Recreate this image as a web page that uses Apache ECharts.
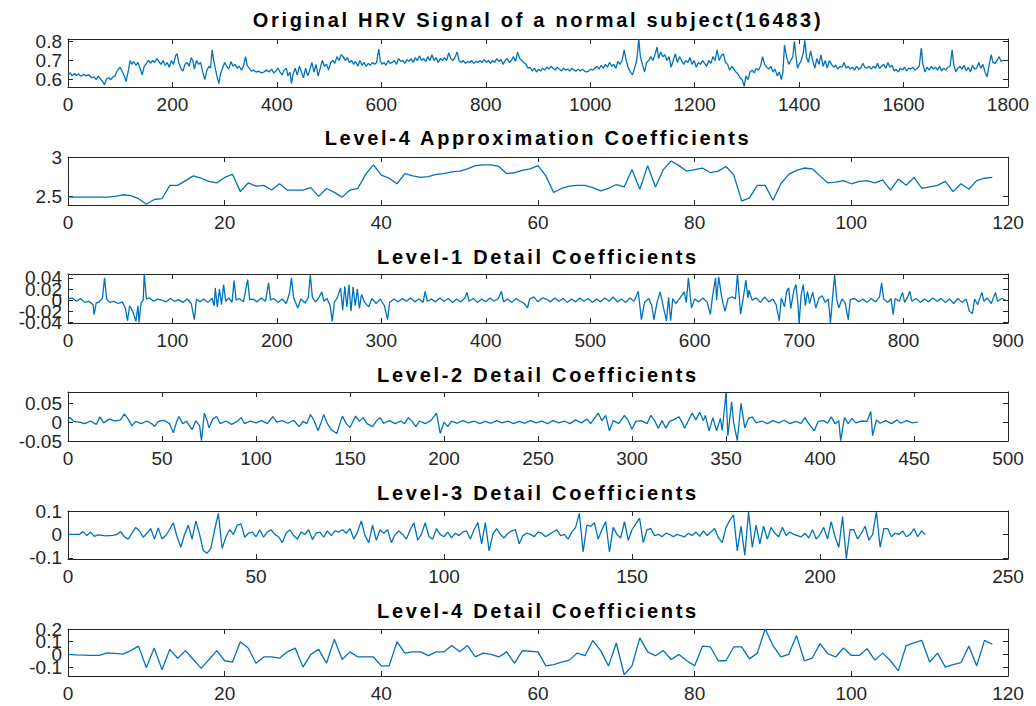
<!DOCTYPE html>
<html><head><meta charset="utf-8">
<script src="https://cdn.jsdelivr.net/npm/echarts@6/dist/echarts.min.js"></script>
<style>html,body{margin:0;padding:0;background:#fff}#c{width:1036px;height:706px}</style>
</head><body><div id="c"></div>
<script>
const titles = [
  'Original HRV Signal of a normal subject(16483)',
  'Level-4 Approximation Coefficients',
  'Level-1 Detail Coefficients',
  'Level-2 Detail Coefficients',
  'Level-3 Detail Coefficients',
  'Level-4 Detail Coefficients'
];
const xMax = [1800, 120, 900, 500, 250, 120];
const xStep = [200, 20, 100, 50, 50, 20];
const yMin = [0.562, 2.39, -0.041, -0.05, -0.105, -0.17];
const yMax = [0.812, 3.0, 0.047, 0.08, 0.1, 0.2];
const yTicks = [[0.6, 0.7, 0.8], [2.5, 3], [-0.04, -0.02, 0, 0.02, 0.04], [-0.05, 0, 0.05], [-0.1, 0, 0.1], [-0.1, 0, 0.1, 0.2]];

// Original HRV signal [sample, value]
const hrv = [[0,0.625],[4,0.635],[8,0.62],[12,0.632],[16,0.622],[20,0.63],[25,0.618],[30,0.628],[35,0.62],[40,0.626],[45,0.61],[50,0.615],[54,0.6],[58,0.618],[62,0.605],[66,0.59],[70,0.575],[74,0.605],[78,0.61],[82,0.6],[86,0.615],[90,0.62],[95,0.65],[100,0.665],[104,0.64],[108,0.62],[111,0.59],[115,0.64],[119,0.7],[122,0.68],[126,0.695],[130,0.675],[134,0.69],[138,0.66],[142,0.625],[146,0.67],[150,0.685],[154,0.7],[158,0.685],[162,0.7],[166,0.69],[170,0.71],[174,0.695],[178,0.68],[182,0.7],[186,0.675],[190,0.69],[194,0.665],[198,0.7],[202,0.68],[206,0.725],[209,0.735],[212,0.69],[216,0.66],[220,0.645],[224,0.68],[228,0.69],[232,0.67],[236,0.715],[239,0.7],[242,0.655],[246,0.7],[250,0.68],[254,0.69],[258,0.64],[262,0.6],[266,0.65],[270,0.67],[273,0.66],[276,0.755],[279,0.7],[282,0.66],[286,0.61],[289,0.58],[292,0.63],[296,0.66],[300,0.69],[304,0.67],[308,0.655],[312,0.695],[316,0.67],[320,0.68],[324,0.66],[328,0.67],[332,0.65],[336,0.67],[340,0.72],[343,0.675],[347,0.66],[351,0.645],[355,0.65],[360,0.64],[365,0.645],[370,0.635],[375,0.64],[380,0.65],[385,0.64],[390,0.655],[394,0.635],[398,0.645],[402,0.66],[406,0.64],[410,0.625],[414,0.65],[418,0.66],[421,0.62],[425,0.64],[428,0.58],[431,0.63],[435,0.66],[439,0.625],[443,0.67],[447,0.64],[451,0.61],[455,0.66],[459,0.62],[463,0.65],[467,0.69],[471,0.64],[475,0.68],[479,0.62],[483,0.66],[487,0.7],[491,0.67],[495,0.68],[499,0.65],[503,0.69],[507,0.7],[511,0.685],[515,0.72],[519,0.7],[523,0.73],[527,0.72],[531,0.7],[535,0.715],[539,0.69],[543,0.7],[547,0.68],[551,0.695],[555,0.67],[559,0.7],[563,0.675],[567,0.69],[571,0.67],[575,0.685],[579,0.675],[583,0.69],[587,0.68],[591,0.69],[595,0.76],[598,0.7],[601,0.68],[605,0.69],[609,0.675],[613,0.7],[617,0.685],[621,0.69],[625,0.7],[629,0.68],[633,0.71],[637,0.695],[641,0.7],[645,0.685],[649,0.705],[653,0.695],[657,0.71],[661,0.69],[665,0.715],[669,0.7],[673,0.725],[677,0.7],[681,0.71],[685,0.695],[689,0.72],[693,0.7],[697,0.73],[701,0.7],[705,0.715],[709,0.69],[713,0.71],[717,0.7],[721,0.715],[725,0.7],[729,0.74],[733,0.71],[737,0.7],[741,0.715],[745,0.745],[749,0.7],[753,0.69],[757,0.7],[761,0.685],[765,0.695],[769,0.69],[773,0.7],[777,0.685],[781,0.695],[785,0.69],[789,0.7],[793,0.69],[797,0.705],[801,0.69],[805,0.7],[809,0.685],[813,0.7],[817,0.69],[821,0.71],[825,0.695],[829,0.705],[833,0.68],[837,0.7],[841,0.71],[845,0.69],[849,0.7],[853,0.72],[857,0.695],[861,0.745],[865,0.71],[869,0.7],[873,0.69],[877,0.68],[881,0.66],[885,0.665],[889,0.645],[893,0.66],[897,0.64],[901,0.655],[905,0.645],[909,0.66],[913,0.65],[917,0.665],[921,0.655],[925,0.67],[929,0.66],[933,0.65],[937,0.665],[941,0.655],[945,0.645],[949,0.66],[953,0.65],[957,0.655],[961,0.645],[965,0.66],[969,0.65],[973,0.645],[977,0.655],[981,0.645],[985,0.655],[989,0.645],[993,0.64],[997,0.645],[1001,0.655],[1005,0.65],[1009,0.66],[1013,0.67],[1017,0.655],[1021,0.675],[1025,0.66],[1029,0.68],[1033,0.665],[1037,0.69],[1041,0.67],[1045,0.68],[1049,0.66],[1053,0.695],[1057,0.68],[1061,0.7],[1065,0.755],[1069,0.7],[1073,0.66],[1077,0.64],[1081,0.625],[1085,0.66],[1089,0.7],[1093,0.81],[1096,0.72],[1100,0.68],[1104,0.64],[1108,0.69],[1112,0.7],[1116,0.72],[1120,0.7],[1124,0.73],[1128,0.77],[1131,0.71],[1135,0.745],[1139,0.72],[1143,0.73],[1147,0.7],[1151,0.72],[1155,0.665],[1159,0.7],[1163,0.735],[1167,0.69],[1171,0.72],[1175,0.7],[1179,0.68],[1183,0.7],[1187,0.69],[1191,0.715],[1195,0.68],[1199,0.7],[1203,0.665],[1207,0.69],[1211,0.68],[1215,0.7],[1219,0.685],[1223,0.67],[1227,0.7],[1231,0.685],[1235,0.72],[1239,0.7],[1243,0.755],[1247,0.7],[1251,0.725],[1255,0.735],[1259,0.69],[1263,0.68],[1267,0.65],[1271,0.67],[1275,0.655],[1279,0.64],[1283,0.63],[1287,0.61],[1291,0.6],[1295,0.565],[1298,0.62],[1302,0.6],[1306,0.64],[1310,0.65],[1314,0.635],[1318,0.66],[1322,0.65],[1326,0.67],[1330,0.72],[1334,0.68],[1338,0.665],[1342,0.655],[1346,0.67],[1350,0.64],[1354,0.655],[1358,0.62],[1362,0.64],[1366,0.6],[1369,0.64],[1372,0.78],[1376,0.72],[1380,0.68],[1384,0.7],[1388,0.72],[1391,0.8],[1394,0.72],[1397,0.66],[1400,0.68],[1404,0.7],[1408,0.74],[1411,0.805],[1414,0.72],[1418,0.69],[1422,0.75],[1426,0.7],[1430,0.66],[1434,0.71],[1438,0.68],[1442,0.73],[1446,0.67],[1450,0.7],[1454,0.66],[1458,0.7],[1462,0.68],[1466,0.665],[1470,0.675],[1474,0.655],[1478,0.67],[1482,0.665],[1486,0.69],[1490,0.66],[1494,0.67],[1498,0.655],[1502,0.665],[1506,0.65],[1510,0.67],[1514,0.655],[1518,0.66],[1522,0.685],[1526,0.665],[1530,0.66],[1534,0.67],[1538,0.655],[1542,0.67],[1546,0.66],[1550,0.685],[1554,0.66],[1558,0.67],[1562,0.68],[1566,0.66],[1570,0.69],[1574,0.665],[1578,0.675],[1582,0.645],[1586,0.655],[1590,0.64],[1594,0.66],[1598,0.65],[1602,0.665],[1606,0.645],[1610,0.66],[1614,0.655],[1618,0.665],[1622,0.65],[1626,0.66],[1630,0.67],[1634,0.765],[1637,0.68],[1641,0.64],[1645,0.665],[1649,0.65],[1653,0.67],[1657,0.655],[1661,0.665],[1665,0.65],[1669,0.67],[1673,0.645],[1677,0.66],[1681,0.65],[1685,0.665],[1689,0.67],[1693,0.755],[1696,0.68],[1700,0.64],[1704,0.66],[1708,0.67],[1712,0.655],[1716,0.675],[1720,0.645],[1724,0.665],[1728,0.64],[1732,0.675],[1736,0.655],[1740,0.66],[1744,0.69],[1748,0.66],[1752,0.68],[1756,0.64],[1760,0.615],[1764,0.68],[1768,0.73],[1771,0.69],[1775,0.685],[1779,0.7],[1783,0.72],[1787,0.695],[1790,0.7]];

// Level-4 approximation coefficients (index 0..118)
const approx4 = [2.49,2.49,2.49,2.49,2.49,2.49,2.50,2.52,2.51,2.47,2.40,2.46,2.47,2.64,2.64,2.70,2.76,2.73,2.69,2.67,2.74,2.78,2.56,2.67,2.63,2.64,2.58,2.66,2.58,2.58,2.58,2.61,2.50,2.60,2.55,2.49,2.58,2.60,2.78,2.90,2.77,2.73,2.66,2.79,2.76,2.74,2.75,2.78,2.79,2.81,2.82,2.85,2.89,2.90,2.90,2.88,2.79,2.80,2.83,2.85,2.89,2.76,2.55,2.60,2.63,2.64,2.64,2.61,2.57,2.60,2.65,2.62,2.84,2.59,2.89,2.62,2.84,2.95,2.89,2.82,2.84,2.86,2.80,2.82,2.88,2.77,2.44,2.48,2.64,2.64,2.45,2.66,2.78,2.83,2.86,2.85,2.76,2.67,2.68,2.70,2.66,2.69,2.70,2.67,2.71,2.58,2.72,2.64,2.74,2.60,2.62,2.64,2.69,2.56,2.66,2.59,2.70,2.73,2.74];

// Level-1 detail coefficients [index, value]
const detail1 = [[0,0.002],[4,0.004],[8,-0.002],[12,0.003],[16,-0.004],[20,-0.002],[24,-0.008],[25,-0.026],[27,-0.005],[30,-0.003],[33,0.004],[35,0.04],[37,0.002],[40,-0.004],[44,-0.002],[48,-0.006],[52,-0.003],[55,-0.015],[57,-0.037],[59,-0.01],[62,-0.02],[65,-0.038],[67,-0.01],[68,-0.04],[70,-0.005],[72,0],[73,0.048],[75,0.002],[78,0.004],[82,-0.002],[86,0.002],[90,0],[94,-0.003],[98,0.003],[102,-0.002],[106,0.001],[110,-0.004],[114,0.002],[118,-0.006],[121,-0.035],[123,0.002],[126,-0.003],[130,0.002],[134,-0.004],[138,0.003],[140,-0.01],[141,0.022],[143,-0.012],[145,0.02],[147,-0.008],[149,0.028],[151,-0.002],[154,0.004],[157,-0.004],[159,0.035],[161,0],[164,0.003],[168,-0.003],[172,0.037],[174,0.001],[177,0.002],[181,-0.003],[185,0.004],[189,-0.002],[192,0.031],[194,0],[197,0.003],[201,-0.004],[205,0.002],[209,-0.006],[212,0.012],[214,0.04],[216,0.005],[220,-0.014],[223,0.002],[227,-0.005],[230,0.004],[232,0.045],[234,0.005],[237,-0.003],[240,0.004],[243,0.015],[245,-0.002],[248,0.003],[251,-0.01],[253,-0.038],[255,-0.004],[258,0.005],[261,0.022],[263,-0.018],[265,0.025],[267,-0.012],[269,0.028],[271,-0.02],[273,0.024],[275,-0.01],[277,0.02],[279,-0.015],[281,0.01],[284,-0.004],[288,-0.012],[291,0.003],[295,-0.006],[299,0.002],[303,-0.01],[306,-0.035],[308,-0.004],[312,0.002],[316,-0.003],[320,0.003],[324,-0.002],[328,0.004],[332,-0.003],[336,0.002],[340,-0.004],[342,0.016],[344,-0.002],[348,0.002],[352,-0.003],[356,0.004],[360,-0.002],[364,0.003],[368,-0.004],[372,0.002],[376,-0.003],[380,0.004],[382,0.014],[384,-0.002],[388,0.003],[392,-0.004],[396,0.002],[400,-0.003],[404,0.004],[408,-0.002],[412,0.003],[415,0.016],[417,-0.003],[421,0.002],[425,-0.004],[429,0.003],[433,-0.002],[437,-0.006],[440,-0.014],[442,0.002],[446,0.006],[450,-0.003],[454,0.004],[458,0.002],[462,-0.003],[466,0.004],[470,-0.002],[474,0.003],[478,-0.004],[482,0.002],[486,-0.003],[490,0.004],[494,-0.002],[498,0.003],[502,-0.004],[506,0.002],[510,-0.003],[514,0.004],[518,-0.002],[522,0.006],[526,-0.003],[530,0.002],[534,-0.004],[538,0.004],[542,-0.002],[546,0.016],[549,-0.035],[552,-0.004],[556,0.003],[559,-0.01],[561,-0.035],[564,-0.004],[567,0.015],[570,-0.012],[573,-0.037],[575,0.005],[577,-0.037],[579,0.003],[582,-0.006],[586,0.004],[590,0.015],[592,-0.004],[594,0.04],[597,-0.014],[600,0.002],[604,-0.003],[608,0.004],[612,-0.004],[615,-0.026],[617,0.005],[620,0.04],[621,0],[623,0.042],[626,0.004],[629,-0.02],[632,0.003],[636,0.006],[639,0.002],[641,0.047],[644,-0.025],[647,0.01],[649,0.036],[651,0.004],[652,0.018],[655,0],[659,0.004],[663,-0.004],[667,0.006],[671,-0.003],[675,0.002],[678,-0.008],[681,-0.037],[683,0.004],[686,-0.012],[688,0.015],[690,0.022],[692,-0.015],[695,0.018],[697,0.028],[699,-0.01],[700,-0.041],[702,0.01],[704,0.028],[706,-0.01],[708,0.016],[710,-0.006],[713,0.014],[716,-0.014],[719,0.004],[722,0.008],[725,-0.004],[728,0.002],[730,-0.041],[732,0.004],[734,0.045],[736,0.002],[738,-0.014],[741,0.002],[744,-0.004],[747,-0.035],[749,0.001],[753,0.003],[757,-0.003],[761,0.002],[765,-0.004],[769,0.003],[773,-0.003],[777,0.006],[779,0.031],[781,0.002],[785,-0.004],[788,0.003],[790,-0.026],[792,0.003],[796,-0.002],[799,0.014],[801,-0.004],[804,0.006],[806,0.016],[808,-0.002],[812,0.003],[816,-0.004],[820,0.002],[824,-0.003],[828,0.004],[832,-0.002],[836,0.003],[840,-0.004],[844,0.002],[848,-0.006],[852,0.003],[856,-0.004],[860,0.002],[863,-0.02],[866,-0.024],[868,0.002],[871,-0.008],[875,0.014],[877,-0.002],[880,0.004],[884,-0.006],[888,0.014],[890,-0.002],[894,0.003],[898,0]];

// Level-2 detail coefficients [index, value]
const detail2 = [[0,0.005],[1,0.013],[3,0.002],[6,0],[9,-0.004],[12,0.003],[15,-0.006],[17,0.014],[19,-0.002],[22,0.008],[25,0.003],[28,0.006],[30,0.022],[32,0.008],[34,-0.01],[36,0.002],[39,-0.004],[42,0.003],[45,-0.006],[46,-0.012],[48,0.002],[51,0.005],[54,-0.004],[56,-0.028],[58,0.004],[59,0.015],[61,-0.004],[63,0.003],[66,-0.02],[68,0.004],[70,-0.01],[71,-0.049],[72.5,0.024],[74,0.004],[75,-0.015],[77,0.008],[79,0.015],[81,-0.004],[84,0.003],[87,-0.006],[90,0.002],[92,0.012],[94,-0.004],[97,0.003],[100,-0.002],[103,0.004],[106,-0.004],[109,0.015],[111,0],[114,0.004],[117,-0.003],[120,0.005],[123,-0.012],[125,0.002],[127,-0.004],[129,0.02],[131,0.003],[133,-0.023],[135,0.004],[136,0.02],[138,-0.004],[140,-0.02],[143,-0.03],[145,0.002],[146,0.016],[148,-0.004],[150,-0.014],[153,0.016],[155,0.002],[157,0.012],[159,-0.004],[162,-0.012],[164,0.003],[166,0.012],[168,-0.003],[171,0.004],[174,-0.004],[177,0.003],[179,-0.004],[181,0.012],[183,0.002],[185,-0.012],[187,0.003],[190,-0.004],[193,0.004],[196,0.024],[198,-0.03],[200,0],[202,-0.012],[204,0.003],[207,-0.003],[210,0.004],[213,-0.002],[216,0.003],[219,-0.004],[222,0.002],[225,-0.003],[228,0.004],[231,-0.002],[234,0.003],[237,-0.004],[240,0.002],[243,-0.003],[246,0.004],[249,-0.002],[252,0.003],[255,-0.004],[258,0.004],[261,-0.002],[264,0.003],[267,-0.004],[270,0.006],[273,-0.002],[276,0.008],[278,-0.004],[280,0.01],[282,0.024],[284,0.004],[286,0.018],[288,-0.023],[290,0.004],[293,-0.004],[296,0.018],[298,0.004],[300,-0.019],[302,0.002],[305,0.004],[308,-0.004],[310,0.018],[312,0.004],[314,-0.016],[316,0.004],[318,-0.016],[320,0.002],[322,0.006],[325,0.014],[327,-0.004],[328,-0.016],[330,0.004],[332,0.024],[334,0.006],[336,0.026],[338,0.004],[339,0.018],[341,-0.023],[343,0.012],[345,-0.023],[347,0.01],[348,-0.022],[350,0.078],[351,-0.036],[353,0.054],[354,0],[356,-0.049],[358,0.05],[360,-0.015],[362,0.01],[364,0.014],[366,-0.002],[369,0.003],[372,-0.004],[375,0.004],[378,-0.002],[381,0.005],[384,-0.004],[387,0.002],[390,-0.003],[392,0.012],[394,-0.004],[397,-0.023],[399,0.002],[402,0.004],[404,-0.003],[406,0.014],[408,-0.004],[410,0.004],[411,-0.049],[413,0.012],[415,-0.004],[417,0.01],[419,-0.002],[422,0.003],[425,0.002],[427,0.028],[428,-0.036],[430,0.006],[432,-0.003],[435,0.004],[438,-0.004],[441,0.006],[443,-0.003],[446,0.004],[449,-0.002],[452,0]];

// Level-3 detail coefficients (index 0..228)
const detail3 = [0,0,0,0,0.012,-0.005,0.01,-0.008,-0.002,-0.004,-0.006,-0.005,-0.004,0,0.012,-0.01,-0.02,0.005,0.03,0.015,-0.012,0.005,0.025,-0.02,0.028,-0.02,-0.005,0.02,0.05,-0.01,-0.055,0,0.04,-0.02,0.058,0,-0.07,-0.08,-0.06,0.02,0.09,-0.06,-0.01,0.02,0,0.04,0.045,-0.012,0.005,0.01,-0.01,0.02,-0.012,0.01,0.02,0,-0.01,-0.035,0.005,0.02,-0.005,-0.02,0.01,0,0.02,-0.022,0.005,0.01,-0.012,0.015,-0.005,0.015,0.01,0.02,0.005,0.025,-0.02,0.01,0.058,-0.005,-0.035,0.04,-0.025,0.02,0.005,0.02,-0.035,0,0.015,0,-0.02,0.02,0.05,-0.025,0,0.05,-0.01,-0.02,0.025,0,-0.01,0.01,-0.015,0.005,-0.005,0.01,0.015,-0.02,0.02,0.05,-0.04,0.05,-0.07,0,0.025,0,-0.015,0.005,0.015,0.02,-0.04,-0.005,0.005,0,-0.01,0.01,0.005,-0.01,0,0.01,0.02,-0.005,0,-0.02,0.01,0.03,0.09,-0.075,0.04,0.035,0.05,-0.02,0.02,0.055,-0.075,0.03,0,-0.015,0.055,-0.025,0.02,0.045,0.07,-0.035,0.02,0.025,-0.005,0,-0.01,0.005,0,-0.01,0,-0.005,-0.01,0.005,-0.005,0.01,-0.008,0.015,-0.005,0.01,0.025,-0.015,-0.035,0.03,0.06,0.083,-0.07,0.035,-0.09,0.097,-0.055,0.04,-0.04,0.035,-0.02,0.03,0.005,-0.01,0.03,-0.005,0.01,0,-0.005,-0.01,0.005,-0.015,0.02,-0.02,0,0.03,-0.02,0.055,-0.01,-0.055,0.076,-0.104,0.02,0.02,-0.02,0.005,0.035,-0.025,0,0.097,-0.055,0.025,0.025,-0.01,0.005,0,0.015,-0.01,0,0.025,-0.01,0.015,0];

// Level-4 detail coefficients (index 0..118)
const detail4 = [0,-0.003,-0.005,-0.008,-0.008,0.012,0.008,0.002,0.03,0.065,-0.105,0.05,-0.12,0.04,-0.03,0.03,-0.04,-0.11,-0.04,0.03,-0.05,-0.06,0.10,0.05,-0.07,-0.02,-0.02,-0.03,0.02,0.05,-0.10,0,0.04,-0.07,0.12,-0.04,0.02,-0.02,-0.02,-0.02,-0.09,-0.09,0.10,0.01,0.02,0.02,-0.01,0.02,0.02,0.07,0.02,0.07,-0.02,0.01,0,-0.02,0.02,-0.07,0.03,0.025,0.02,-0.09,-0.08,-0.06,-0.045,0.01,-0.01,0.11,0.03,-0.09,0.09,-0.16,-0.09,0.13,0.02,-0.01,0.03,-0.04,0,-0.05,-0.09,0.065,0.06,-0.05,-0.05,0.06,0.06,-0.035,0.01,0.2,0.07,-0.02,0,0.148,-0.05,-0.03,0.085,0.005,-0.02,0.05,-0.008,-0.008,0.045,-0.045,0.01,-0.05,-0.13,0.07,0.09,0.11,-0.06,0.01,-0.10,-0.08,-0.065,0.065,-0.09,0.11,0.08];

const seriesData = [
  hrv,
  approx4.map((v, i) => [i, v]),
  detail1,
  detail2,
  detail3.map((v, i) => [i, v]),
  detail4.map((v, i) => [i, v])
];

const gridTop = [39, 157, 274, 392, 511, 629];
const gridH = [48, 48, 49, 49, 48, 47];
const titleY = [20, 138, 257, 375, 493, 611];

const axisColor = '#262626';
const lineCol = '#0072BD';
const tickFont = {fontSize: 19, color: axisColor, fontFamily: 'Liberation Sans, Arial, sans-serif'};
const plain = v => String(+(+v).toFixed(4));

const grid = [], xAxis = [], yAxis = [], series = [], graphic = [];
for (let i = 0; i < 6; i++) {
  grid.push({left: 68, right: 28, top: gridTop[i], height: gridH[i], show: false});
  const xBase = {
    gridIndex: i, type: 'value', min: 0, max: xMax[i], interval: xStep[i],
    axisLine: {show: true, onZero: false, lineStyle: {color: axisColor, width: 1}},
    axisTick: {show: true, inside: true, length: 5, lineStyle: {color: axisColor, width: 1}},
    splitLine: {show: false}
  };
  xAxis.push(Object.assign({}, xBase, {position: 'bottom', axisLabel: Object.assign({margin: 8, hideOverlap: false, showMinLabel: true, showMaxLabel: true, formatter: plain}, tickFont)}));
  xAxis.push(Object.assign({}, xBase, {position: 'top', axisLabel: {show: false}}));
  const yBase = {
    gridIndex: i, type: 'value', min: yMin[i], max: yMax[i], scale: true,
    splitLine: {show: false}
  };
  const evenT = yTicks[i].filter((v, k) => k % 2 === 0);
  const oddT = yTicks[i].filter((v, k) => k % 2 === 1);
  // main left axis: line, all ticks, labels of even-indexed ticks
  yAxis.push(Object.assign({}, yBase, {
    position: 'left',
    axisLine: {show: true, onZero: false, lineStyle: {color: axisColor, width: 1}},
    axisTick: {show: true, inside: true, length: 5, customValues: yTicks[i], lineStyle: {color: axisColor, width: 1}},
    axisLabel: Object.assign({margin: 6, hideOverlap: false, showMinLabel: true, showMaxLabel: true, customValues: evenT, formatter: plain}, tickFont)
  }));
  // right axis: line + ticks only
  yAxis.push(Object.assign({}, yBase, {
    position: 'right',
    axisLine: {show: true, onZero: false, lineStyle: {color: axisColor, width: 1}},
    axisTick: {show: true, inside: true, length: 5, customValues: yTicks[i], lineStyle: {color: axisColor, width: 1}},
    axisLabel: {show: false}
  }));
  // extra left axis carrying the odd-indexed labels (they overlap, as in the source figure)
  yAxis.push(Object.assign({}, yBase, {
    position: 'left', offset: 0,
    axisLine: {show: false, onZero: false},
    axisTick: {show: false},
    axisLabel: Object.assign({show: oddT.length > 0, margin: 6, hideOverlap: false, showMinLabel: true, showMaxLabel: true, customValues: oddT.length ? oddT : [yMin[i]], formatter: plain}, tickFont)
  }));
  series.push({
    type: 'line', xAxisIndex: 2 * i, yAxisIndex: 3 * i, data: seriesData[i],
    showSymbol: false, symbol: 'none', clip: true,
    lineStyle: {color: lineCol, width: 1.3}, animation: false
  });
  graphic.push({
    type: 'text', x: 538, y: titleY[i], silent: true,
    style: {text: titles[i], x: 0, y: 0, textAlign: 'center', textVerticalAlign: 'middle', align: 'center', verticalAlign: 'middle',
      fontSize: 20, fontWeight: 'bold', fontFamily: 'Liberation Sans, Arial, sans-serif', fill: '#000'}
  });
}

const chart = echarts.init(document.getElementById('c'), null, {renderer: 'svg'});
chart.setOption({animation: false, backgroundColor: '#fff', grid, xAxis, yAxis, series, graphic});

function spaceTitles() {
  document.querySelectorAll('#c text').forEach(t => {
    if (titles.includes(t.textContent)) t.style.letterSpacing = '2.7px';
  });
}
spaceTitles();
chart.on('finished', spaceTitles);
setTimeout(spaceTitles, 50);
</script>
</body></html>
